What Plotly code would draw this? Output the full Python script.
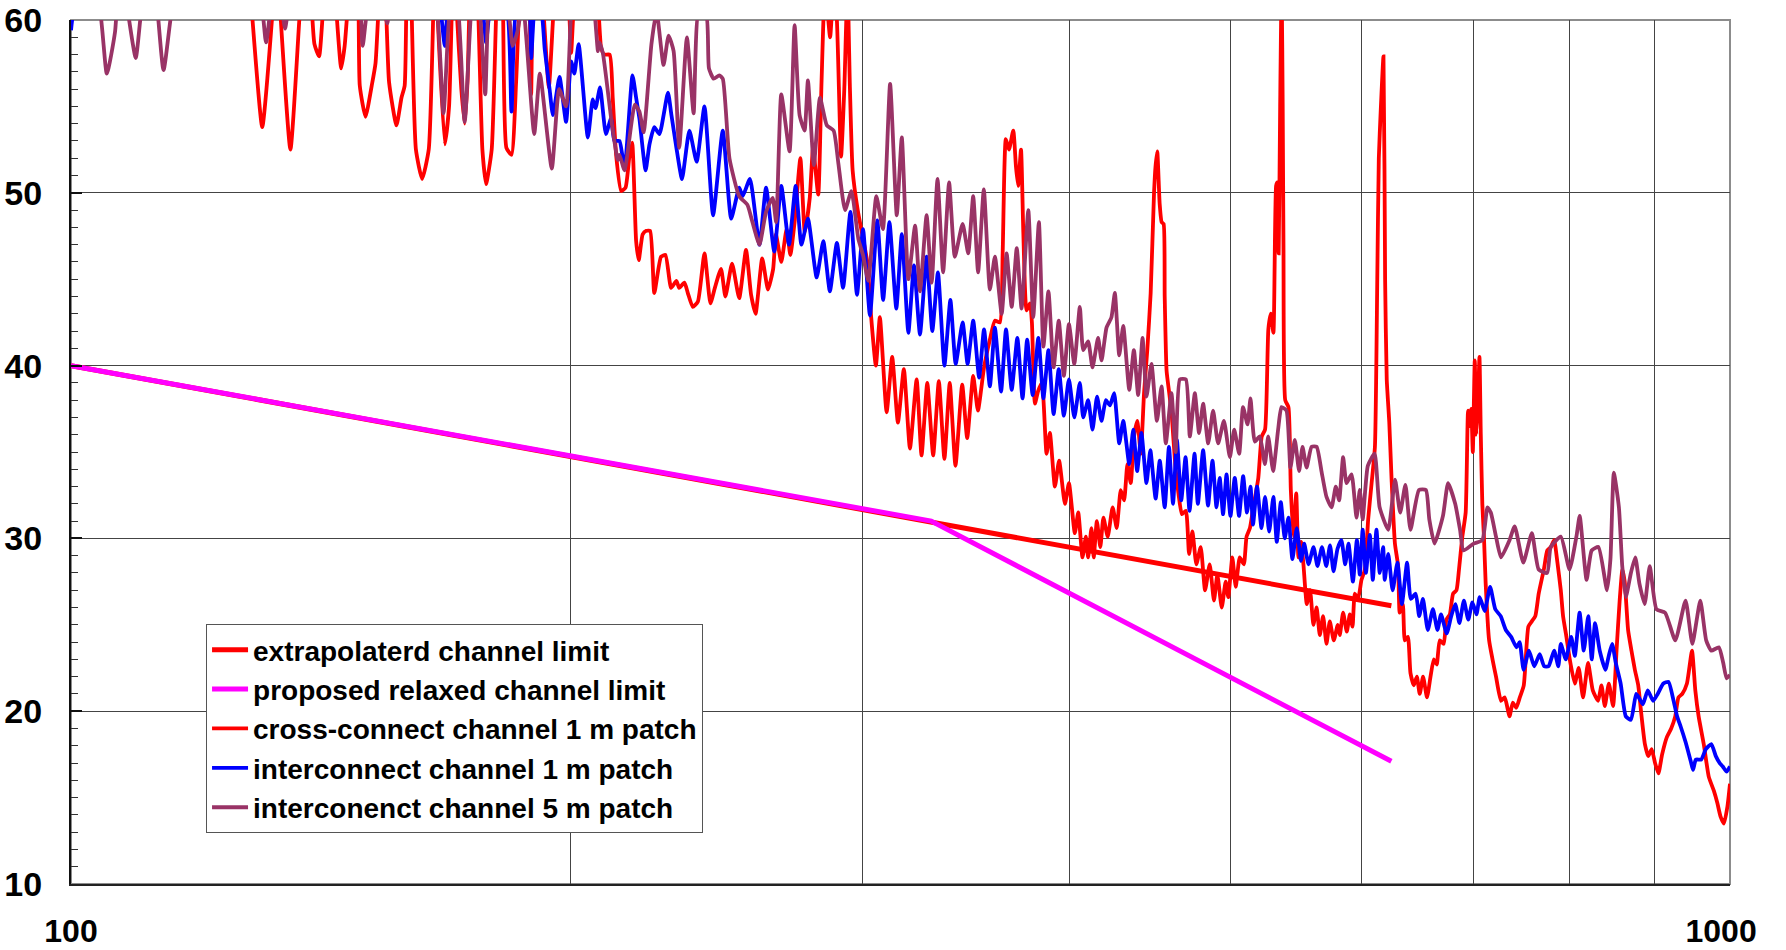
import plotly.graph_objects as go

# ---------------- data (frequency in MHz, value in dB) ----------------
limit_f = [100, 625]
limit_db = [40.0, 26.1]

relaxed_f = [100, 330, 625]
relaxed_db = [40.0, 31.0, 17.1]

cross_f = [100, 127.5, 128.4, 130.4, 132.4, 133.0, 133.6, 135.6, 137.5, 138.5, 139.6, 140.2, 141.1, 142.0,
           143.5, 144.4, 145.5, 146.2, 146.9, 148, 149.0, 149.3, 150.5, 151.8, 152.6, 153.3, 154.0, 154.8,
           155.5, 157.1, 158.2, 158.9, 159.3, 160.0, 160.4, 161.4, 162.8, 164.3, 165.4, 165.8, 166.2, 168.0,
           169.0, 169.7, 170.2, 170.7, 171.9, 172.7, 173.4, 173.9, 175.0, 175.9, 177.0, 177.9, 179.3, 180.5,
           181.2, 182.1, 183.0, 184.3, 185.5, 186.4, 188.5, 189.0, 189.4, 189.9, 191.5, 192.5, 194.1, 195.5,
           197.0, 199.5, 200.2, 201.0, 203, 207.3, 208.7, 209.6, 211.2, 212.1, 213.1, 214.6, 215.9, 217.0,
           217.9, 219.1, 219.9, 221.1, 222.2, 223.4, 224.7, 226.8, 228.2, 230.0, 231.7, 232.6, 234.3, 235.4,
           237.0, 238.7, 240.9, 242.9, 244.4, 246.5, 248.0, 250.3, 252.8, 255.2, 257.0, 258.6, 261.0, 263.1,
           265.0, 266.0, 268.0, 270.0, 271.4, 273.0, 275.2, 276.9, 278.8, 280.1, 282.1, 283.4, 284.8, 286.8,
           288.2, 289.5, 291.2, 292.5, 293.8, 294.8, 295.9, 298.0, 300.0, 302.1, 303.5, 305.6, 307.3, 310.2,
           312.6, 315.1, 317.7, 320.4, 323.4, 325.6, 328.2, 330.9, 333.5, 336.1, 338.6, 341.3, 344.5, 346.9,
           349.8, 352.1, 355.1, 358.0, 360.5, 363.0, 364.4, 366.0, 367.6, 369.8, 371.2, 372.3, 373.8, 375.0,
           376.7, 378.5, 379.5, 381.1, 382.7, 384.8, 387.3, 389.1, 391.8, 394.1, 397.3, 399.5, 402.8, 404.7,
           407.1, 409.0, 410.3, 412.2, 413.5, 415.3, 417.3, 419.1, 421.6, 424.5, 426.9, 429.3, 431.3, 433.3,
           435.3, 437.3, 439.3, 441.4, 443.4, 445.4, 447.5, 449.6, 450.5, 451.6, 453.1, 454.4, 455.6, 456.3,
           457.5, 459.2, 460.9, 463.0, 465.1, 467.3, 469.9, 472.0, 474.2, 476.8, 479.7, 482.6, 485.7, 488.6,
           490.9, 493.9, 496.6, 498.4, 501.2, 503.6, 506.4, 509.3, 511.2, 513.6, 516.0, 519.6, 522.1, 524.5,
           526.9, 528.7, 530.6, 532.6, 533.5, 534.5, 535.6, 536.7, 537.5, 538.1, 539.4, 541.8, 543.6, 545.6,
           547.7, 549.4, 551.4, 553.2, 555.8, 558.3, 560.9, 563.4, 565.9, 568.5, 571.2, 573.8, 577.0, 580.2,
           581.8, 584.5, 587.5, 590.0, 592.2, 594.1, 596.8, 599.6, 602.4, 605.2, 608.1, 610.9, 612.9, 614.2,
           616.0, 618.2, 619.6, 621.0, 623.2, 625.2, 628.1, 630.9, 632.3, 635.0, 636.8, 639.5, 641.8, 644.8,
           647.5, 650.1, 653.1, 656.7, 659.9, 662.9, 665.6, 668.4, 672.1, 674.6, 677.8, 680.9, 684.1, 686.5,
           689.7, 692.9, 695.2, 696.8, 698.3, 699.8, 701.7, 703.2, 704.9, 706.3, 707.6, 709.1, 710.7, 712.4,
           715.8, 719.2, 722.7, 727.7, 731.5, 736.4, 739.7, 743.3, 747.0, 751.1, 755.9, 759.5, 763.2, 766.8,
           772.3, 776.0, 779.8, 783.4, 787.0, 790.7, 793.2, 796.9, 800.6, 806.2, 810.6, 815.5, 821.2, 826.6,
           832.7, 836.6, 840.5, 845.2, 850.2, 854.3, 858.0, 861.3, 864.0, 868.1, 872.2, 876.3, 880.4, 884.5,
           888.6, 892.7, 897.0, 901.2, 905.4, 910.1, 916.1, 921.6, 926.8, 931.0, 935.9, 942.0, 948.6, 953.0,
           957.4, 964.2, 971.0, 977.8, 982.5, 987.0, 991.6, 996.5, 1000]
cross_db = [64, 64, 61, 53.8, 61, 64, 61, 52.5, 61, 64, 61, 58.6, 57.9, 61,
            64, 61, 57.2, 58.5, 61, 64, 61, 56.2, 54.4, 56.2, 57.5, 61, 64, 61,
            56.4, 53.9, 55.5, 56.2, 61, 64, 61, 52.5, 50.8, 52.5, 61, 64, 61, 52.8,
            55, 61, 64, 61, 56, 54.0, 56.5, 61, 64, 61, 52.5, 50.5, 52.5, 61,
            64, 61, 52.6, 52.2, 56.5, 61, 64, 61, 55.7, 61, 63, 61, 56.1, 61,
            64, 61, 58.1, 61, 64, 62, 58.4, 58.0, 58.0, 55.5, 52.2, 50.1, 50.3, 52.0,
            52.9, 47.2, 46.1, 47.6, 47.8, 47.8, 44.2, 46.3, 46.4, 44.5, 44.9, 44.5, 44.8, 44.2,
            43.4, 43.7, 46.5, 43.6, 44.5, 45.6, 44.0, 45.9, 43.9, 46.7, 44.1, 43.0, 46.2, 44.4,
            45.6, 47.6, 46.0, 47.9, 46.4, 48.3, 52.0, 47.7, 49.7, 52.6, 49.9, 56.4, 62, 59.0,
            62, 60, 52.1, 56, 62, 56, 51.3, 49.0, 47.5, 45.9, 43.0, 40.0, 42.8, 37.3,
            40.5, 36.7, 39.8, 35.2, 39.2, 34.8, 39.0, 34.8, 39.1, 34.6, 39.0, 34.2, 38.9, 35.8,
            39.4, 37.4, 39.9, 41.5, 42.6, 42.5, 46.5, 53.1, 52.5, 53.6, 51.5, 50.4, 52.5, 47.7,
            43.2, 43.6, 42.5, 37.8, 38.5, 39.0, 34.9, 36.1, 33.0, 34.5, 32.0, 33.2, 30.3, 31.5,
            28.9, 30.1, 28.9, 30.6, 28.9, 31.0, 29.5, 31.2, 30.1, 31.8, 30.6, 32.8, 32.2, 34.3,
            33.2, 35.9, 36.8, 34.9, 38.4, 40.9, 44.2, 50.0, 51.5, 52.4, 49.4, 48.3, 48.2, 44.0,
            39.7, 38.4, 37.0, 34.3, 32.6, 31.4, 31.6, 29.1, 30.4, 28.5, 29.5, 27.0, 28.5, 26.4,
            27.9, 26.0, 27.5, 26.6, 28.9, 27.2, 28.9, 28.5, 30.1, 30.6, 31.8, 33.5, 35.9, 36.3,
            42.1, 43.0, 41.9, 50.4, 50.6, 46.5, 55, 62, 55, 46.7, 38.0, 37.6, 32.8, 30.1,
            32.6, 28.9, 29.8, 28.5, 26.2, 27.0, 25.0, 26.0, 24.4, 25.5, 23.9, 25.2, 24.1, 25.0,
            24.4, 25.7, 24.6, 25.6, 24.9, 26.8, 26.5, 27.6, 28.2, 31.1, 33.2, 35.3, 45, 52,
            55, 57.9, 45, 39.2, 36.7, 33.4, 29.7, 28.4, 25.7, 26.2, 24.1, 24.3, 22.2, 21.5,
            22.0, 21.0, 22.0, 20.8, 22.0, 23.0, 22.7, 24.1, 23.9, 25.3, 25.6, 26.8, 27.0, 28.2,
            30.1, 31.5, 37.4, 36.5, 37.5, 35, 40.3, 36, 38, 40.5, 36, 32.0, 30.1, 27.4,
            24.1, 23.0, 22.0, 20.6, 20.8, 19.7, 20.5, 20.2, 20.8, 21.5, 24.9, 25.2, 25.5, 26.8,
            28.2, 29.3, 29.5, 29.9, 28.6, 27.0, 25.5, 24.3, 23.0, 21.6, 22.5, 20.8, 22.8, 21.2,
            20.6, 21.5, 20.3, 21.6, 20.3, 23.5, 26.4, 28.2, 27.5, 24.7, 23.5, 22.4, 21.5, 19.7,
            18.1, 17.4, 17.8, 17.0, 16.4, 17.5, 18.5, 19.0, 19.7, 20.8, 21.0, 21.6, 23.5, 21.2,
            19.7, 18.1, 16.2, 15.4, 14.7, 13.9, 13.5, 14.5, 15.8]

inter1_f = [100, 101.5, 164, 166.8, 168.0, 169.2, 176.5, 177.9, 179.3, 182.8, 184.3, 185.8, 188.6, 189.4,
            190.5, 192.1, 193.0, 194.3, 195.2, 197.0, 198.8, 200.2, 201.1, 202.3, 204.9, 206.3, 207.1, 208.4,
            210.1, 211.6, 212.6, 214.1, 215.6, 218.0, 219.1, 220.1, 222.0, 223.2, 224.7, 226.3, 229.0, 230.1,
            231.7, 233.5, 235.9, 238.3, 240.9, 243.8, 247.1, 250.0, 252.8, 254.0, 256.6, 260.0, 262.4, 265.4,
            268.0, 270.9, 273.4, 275.6, 278.1, 281.5, 284.1, 286.7, 289.5, 292.0, 295.0, 297.7, 300.2, 303.1,
            306.2, 308.7, 311.4, 314.4, 316.8, 319.7, 322.2, 324.9, 327.9, 330.5, 333.1, 336.1, 338.9, 341.4,
            344.7, 347.1, 349.8, 352.7, 355.1, 358.0, 360.5, 363.6, 366.1, 369.0, 371.9, 374.6, 377.0, 379.9,
            382.9, 385.6, 388.3, 391.1, 393.9, 396.7, 399.5, 402.5, 405.6, 407.5, 410.3, 412.8, 415.4, 418.0,
            420.5, 422.9, 425.4, 428.4, 430.8, 434.4, 436.8, 439.2, 441.8, 444.9, 447.3, 450.6, 453.2, 456.3,
            459.0, 461.6, 464.1, 466.9, 469.7, 472.3, 475.6, 477.8, 481.3, 484.6, 487.6, 490.3, 492.5, 494.8,
            497.2, 499.9, 502.9, 505.9, 508.8, 511.5, 514.0, 515.8, 518.7, 521.9, 524.5, 527.5, 530.6, 533.1,
            536.1, 539.0, 541.8, 544.8, 548.1, 551.3, 553.8, 557.1, 561.0, 564.1, 567.6, 571.0, 574.0, 576.8,
            580.0, 583.1, 586.2, 588.9, 592.5, 595.8, 598.2, 600.6, 603.3, 606.6, 609.1, 612.2, 615.0, 617.9,
            619.3, 622.3, 626.1, 630.3, 634.2, 638.8, 642.1, 646.5, 649.6, 653.0, 657.4, 662.1, 666.3, 669.6,
            674.9, 679.1, 683.0, 686.9, 691.2, 695.4, 699.4, 703.4, 706.5, 711.4, 716.8, 722.0, 727.4, 732.6,
            738.0, 743.6, 746.8, 750.9, 756.5, 762.1, 767.9, 772.6, 777.4, 783.4, 788.0, 790.7, 796.2, 802.2,
            806.2, 811.6, 816.3, 821.4, 825.4, 829.2, 834.6, 841.2, 845.1, 849.1, 853.4, 859.2, 865.4, 871.6,
            877.8, 881.0, 886.1, 892.1, 898.8, 904.5, 911.7, 918.2, 924.7, 929.2, 933.9, 940.3, 947.0, 950.0,
            953.7, 960.8, 967.0, 974.4, 980.5, 985.8, 990.0, 995.4, 1000]
inter1_db = [59.4, 62, 63, 61, 58.5, 61, 61, 58.7, 61, 61, 54.7, 61, 61, 57.8,
             61, 60.5, 58.3, 56.0, 54.5, 56.7, 54.1, 57.6, 56.9, 58.6, 53.2, 55.4, 54.9, 56.1,
             53.4, 54.3, 53.0, 53.0, 51.4, 56.8, 55.5, 54.3, 51.3, 52.8, 53.8, 53.4, 55.8, 54.5,
             52.6, 50.8, 53.6, 51.8, 55.0, 48.7, 53.6, 48.5, 50.3, 49.8, 50.8, 47.0, 50.3, 46.6,
             50.4, 47.0, 50.4, 47.0, 48.5, 45.1, 47.2, 44.3, 47.1, 44.5, 48.9, 44.1, 47.9, 42.9,
             48.4, 43.8, 48.3, 43.3, 47.6, 41.9, 45.8, 41.8, 46.3, 42.0, 45.4, 40.0, 43.8, 40.1,
             42.5, 40.1, 42.6, 39.3, 42.1, 38.8, 42.2, 38.5, 42.1, 38.6, 41.6, 38.1, 41.5, 38.3,
             41.6, 38.1, 40.9, 37.2, 39.8, 37.1, 39.2, 37.0, 39.0, 37.0, 38.0, 36.3, 38.2, 36.8,
             38.0, 37.7, 38.4, 35.5, 36.8, 34.3, 36.3, 33.9, 36.1, 33.2, 35.1, 32.3, 34.5, 31.8,
             35.3, 32.0, 35.7, 32.2, 34.7, 31.6, 34.9, 32.0, 35.1, 31.9, 34.5, 31.8, 33.5, 31.4,
             33.7, 31.3, 33.5, 31.3, 33.6, 31.5, 33.0, 30.8, 33.0, 30.6, 32.4, 30.4, 32.4, 29.8,
             32.1, 30.0, 31.2, 28.8, 30.6, 28.7, 29.7, 28.5, 29.5, 28.4, 29.5, 28.4, 29.6, 28.1,
             29.4, 29.9, 28.5, 29.7, 27.5, 29.9, 27.9, 30.5, 28.0, 30.2, 27.6, 30.5, 28.0, 29.5,
             27.6, 29.1, 27.0, 28.6, 26.2, 28.6, 26.5, 26.8, 25.5, 26.5, 24.7, 25.9, 24.7, 25.6,
             24.5, 25.5, 26.2, 25.1, 26.4, 25.3, 26.3, 25.6, 26.6, 25.8, 27.2, 25.9, 25.5, 24.7,
             24.3, 23.7, 24.0, 22.4, 23.5, 22.6, 23.3, 22.6, 22.6, 23.5, 22.6, 23.9, 23.0, 24.3,
             23.2, 25.7, 23.5, 25.5, 23.0, 25.1, 23.5, 22.4, 23.2, 23.9, 22.8, 21.6, 19.7, 19.5,
             21.0, 20.8, 20.4, 21.2, 20.6, 21.0, 21.6, 21.7, 20.6, 19.7, 19.1, 18.2, 17.1, 16.6,
             17.2, 17.2, 17.8, 18.1, 17.4, 17.0, 16.8, 16.5, 16.8]

inter5_f = [100, 103.5, 105.1, 106.3, 107.0, 108.0, 109.4, 110.4, 112.0, 113.7, 115.2, 118, 129.5, 131.1,
            132.5, 133.8, 134.6, 135.4, 140, 148.8, 149.9, 151.3, 154.4, 155.1, 155.8, 160, 165.5, 167.7,
            169.7, 170.6, 172.7, 174.8, 176.2, 177.7, 179.2, 183.1, 184.6, 185.8, 187.2, 190.2, 191.7, 194.9,
            196.9, 198.8, 200.7, 204, 206.8, 207.8, 208.2, 209.2, 211.9, 213.6, 214.1, 215.6, 218.7, 220.1,
            221.4, 223.8, 225.4, 227.6, 229.2, 230.8, 232.6, 235.1, 237.3, 239.0, 241.5, 242.4, 244.0, 245.9,
            247.1, 249.4, 252.8, 255.7, 257.5, 260.0, 262.4, 264.8, 266.1, 268.0, 271.1, 273.0, 274.9, 276.8,
            278.1, 280.4, 282.8, 285.5, 288.2, 290.1, 292.8, 295.4, 298.3, 300.2, 302.4, 305.8, 308.6, 311.7,
            314.6, 316.8, 319.7, 322.7, 324.9, 327.9, 330.2, 332.9, 335.5, 338.3, 341.0, 344.7, 347.4, 349.8,
            352.2, 355.0, 358.0, 360.5, 363.9, 366.4, 369.0, 371.6, 374.1, 377.6, 380.2, 383.2, 385.6, 388.3,
            391.1, 393.9, 396.7, 399.5, 402.5, 405.6, 407.5, 410.3, 412.8, 416.0, 418.0, 420.9, 423.8, 425.8,
            428.4, 430.8, 434.4, 437.2, 439.8, 442.5, 444.9, 448.0, 451.4, 454.3, 457.0, 460.6, 463.3, 466.0,
            469.9, 472.5, 475.8, 478.6, 481.3, 484.7, 488.0, 491.4, 495.4, 499.5, 502.5, 506.0, 508.7, 511.9,
            514.0, 517.1, 520.7, 524.4, 526.8, 530.4, 534.1, 536.6, 540.3, 543.3, 546.6, 549.9, 552.5, 555.6,
            559.5, 563.4, 567.2, 571.2, 575.2, 578.6, 581.3, 584.5, 587.3, 591.4, 595.5, 598.2, 600.6, 604.9,
            610.6, 614.9, 622.3, 628.2, 632.7, 637.3, 641.8, 649.4, 655.7, 658.8, 663.6, 671.4, 676.2, 682.9,
            687.5, 690.8, 700.7, 709.1, 714.2, 717.5, 722.7, 727.7, 736.4, 741.7, 750.6, 759.6, 766.8, 775.9,
            779.7, 790.7, 800.3, 808.0, 811.7, 819.5, 825.3, 833.1, 843.1, 847.1, 851.1, 857.1, 861.1, 865.4,
            871.5, 876.8, 881.8, 888.3, 894.6, 903.0, 913.9, 926.9, 940.2, 949.1, 959.6, 967.5, 974.4, 984.6,
            990.6, 995.3, 1000]
inter5_db = [63, 62, 56.9, 59.3, 63, 61, 57.8, 61, 63, 57.1, 61, 64, 62, 58.7,
             62, 61, 59.5, 61, 64, 62, 58.5, 61, 60.5, 59.8, 61, 64, 62, 54.6,
             62, 62, 54.1, 62, 61, 55.7, 62, 61, 58.5, 59.3, 61, 53.4, 56.9, 51.4,
             56.0, 55.0, 62, 64, 60.5, 58.2, 58.7, 58.1, 53.9, 51.9, 52.2, 51.3, 55.1, 54.7,
             53.5, 58.6, 60.5, 57.4, 59.1, 58.2, 52.6, 59.0, 54.6, 60.5, 60.3, 57.2, 56.6, 56.8,
             56.6, 52.0, 49.8, 49.3, 48.3, 47.0, 48.9, 49.7, 48.3, 55.7, 52.4, 59.7, 54.5, 53.6,
             56.5, 51.6, 55.5, 53.9, 53.6, 51.7, 49.0, 50.1, 47.3, 46.4, 44.9, 49.8, 47.9, 56.3,
             48.7, 53.2, 45.0, 48.1, 44.3, 48.7, 44.8, 50.8, 45.4, 50.6, 46.3, 48.2, 46.5, 49.8,
             45.4, 50.2, 44.4, 46.3, 43.0, 46.5, 43.4, 46.8, 43.3, 49.0, 42.8, 48.3, 41.1, 44.3,
             39.9, 42.6, 39.4, 42.4, 40.1, 43.4, 40.9, 41.4, 39.9, 41.6, 40.3, 42.2, 42.8, 44.2,
             40.6, 42.3, 38.6, 40.9, 38.3, 41.6, 38.2, 40.1, 36.8, 38.8, 35.5, 38.4, 35.0, 39.2,
             39.2, 35.9, 38.4, 36.1, 37.8, 35.5, 37.4, 35.5, 36.8, 34.7, 36.3, 34.9, 37.6, 36.6,
             38.1, 35.6, 35.9, 34.3, 35.9, 33.9, 36.3, 37.6, 37.4, 34.1, 35.7, 33.9, 35.3, 34.1,
             35.3, 35.3, 33.9, 32.4, 31.8, 33.0, 32.2, 34.7, 33.2, 33.7, 31.2, 32.8, 31.1, 34.2,
             34.9, 31.8, 30.5, 33.4, 31.5, 33.1, 30.5, 32.8, 32.8, 31.1, 29.7, 31.3, 33.2, 32.0,
             30.5, 29.3, 29.7, 29.9, 31.8, 31.5, 30.1, 28.9, 29.9, 30.7, 28.6, 30.3, 28.2, 28.0,
             29.5, 30.1, 28.2, 30.1, 31.3, 27.6, 29.3, 29.5, 27.0, 28.8, 33.8, 31.8, 28.4, 26.6,
             28.0, 28.9, 27.4, 26.2, 28.4, 25.9, 25.7, 24.1, 26.4, 23.9, 26.4, 24.1, 23.5, 23.7,
             22.8, 21.9, 22.1]

x_tickvals = [100, 200, 300, 400, 500, 600, 700, 800, 900, 1000]
x_ticktext = ["100", "", "", "", "", "", "", "", "", "1000\u00a0\u00a0"]
y_tickvals = [10, 20, 30, 40, 50, 60]

FONT = "Liberation Sans, Arial, sans-serif"

fig = go.Figure()
fig.add_trace(go.Scatter(x=limit_f, y=limit_db, mode="lines", name="extrapolaterd channel limit",
                         line=dict(color="#FF0000", width=5)))
fig.add_trace(go.Scatter(x=relaxed_f, y=relaxed_db, mode="lines", name="proposed relaxed channel limit",
                         line=dict(color="#FF00FF", width=5)))
fig.add_trace(go.Scatter(x=cross_f, y=cross_db, mode="lines", name="cross-connect channel 1 m patch",
                         line=dict(color="#FF0000", width=3.8, shape="spline", smoothing=0.5)))
fig.add_trace(go.Scatter(x=inter1_f, y=inter1_db, mode="lines", name="interconnect channel 1 m patch",
                         line=dict(color="#0000FF", width=3.8, shape="spline", smoothing=0.5)))
fig.add_trace(go.Scatter(x=inter5_f, y=inter5_db, mode="lines", name="interconenct channel 5 m patch",
                         line=dict(color="#993366", width=3.8, shape="spline", smoothing=0.5)))

fig.update_layout(
    width=1786, height=950,
    margin=dict(l=71, r=56, t=20, b=66, autoexpand=False),
    paper_bgcolor="white", plot_bgcolor="white",
    font=dict(family=FONT, color="black"),
    showlegend=True,
    legend=dict(x=0.0814, y=0.301, xanchor="left", yanchor="top",
                bgcolor="white", bordercolor="#555555", borderwidth=1,
                itemwidth=36,
                font=dict(family=FONT, size=28, color="black", weight="bold"),
                tracegroupgap=0),
    shapes=[dict(type="rect", xref="paper", yref="paper", x0=0, y0=0, x1=1, y1=1,
                 line=dict(color="#8c8c8c", width=2), layer="below")],
)
fig.update_xaxes(type="log", range=[2, 3], tickvals=x_tickvals, ticktext=x_ticktext,
                 automargin=False,
                 showgrid=True, gridcolor="#444444", gridwidth=1,
                 showline=True, linecolor="#222222", linewidth=2,
                 ticks="", ticklabelstandoff=18,
                 tickfont=dict(family=FONT, size=32, color="black", weight="bold"),
                 zeroline=False)
fig.update_yaxes(range=[10, 60], tickvals=y_tickvals,
                 automargin=False,
                 showgrid=True, gridcolor="#444444", gridwidth=1,
                 showline=True, linecolor="#111111", linewidth=2,
                 ticks="inside", ticklen=11, tickwidth=2, tickcolor="#111111",
                 minor=dict(ticks="inside", ticklen=7, tickwidth=1, tickcolor="#333333",
                            dtick=1, showgrid=False),
                 ticklabelstandoff=20,
                 tickfont=dict(family=FONT, size=34, color="black", weight="bold"),
                 zeroline=False)

fig.write_html("out.html",
               config={"displayModeBar": False},
               post_script="document.body.style.margin='0';document.body.style.padding='0';"
                           "document.body.style.overflow='hidden';")
